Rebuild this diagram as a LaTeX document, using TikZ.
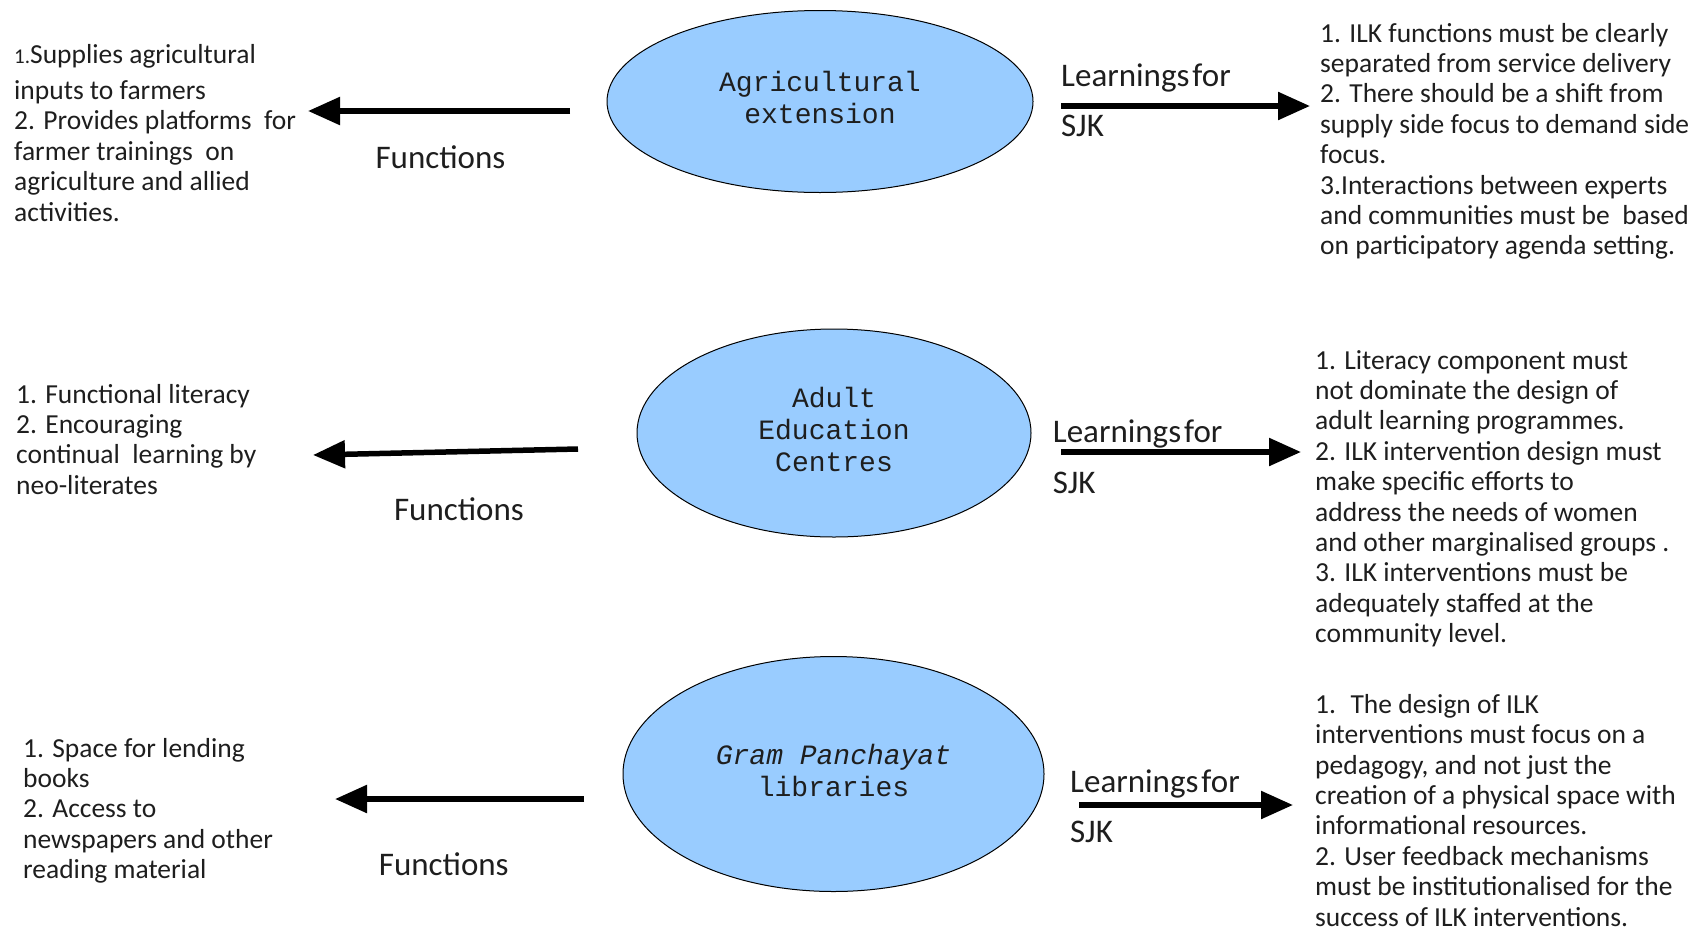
\documentclass[tikz,border=0pt]{standalone}
\usepackage{fontspec}
\setmainfont{Carlito}
\newfontfamily\monof{Liberation Mono}
\usetikzlibrary{shapes.geometric,arrows.meta}
\definecolor{instblue}{RGB}{153,204,255}
\definecolor{ink}{RGB}{30,30,30}
\begin{document}
\begin{tikzpicture}[x=1pt,y=-1pt,
  inst/.style={ellipse, draw=black, line width=1pt, fill=instblue, inner sep=0pt},
  insttext/.style={inner sep=0pt, align=center, font=\monof\fontsize{28}{32}\selectfont, text=ink},
  body/.style={anchor=base west, inner sep=0pt, align=left, font=\fontsize{27.5}{30.4}\selectfont, text=ink},
  lbl/.style={inner sep=0pt, font=\fontsize{33}{38}\selectfont, text=ink},
  arr/.style={line width=5.5pt, draw=black, -{Triangle[length=32pt,width=27pt]}},
]
\useasboundingbox (0,0) rectangle (1693,932);

% institutions
\node[inst, minimum width=426pt, minimum height=182pt] (e1) at (820,101.5) {};
\node[inst, minimum width=394pt, minimum height=208pt] (e2) at (834,433) {};
\node[inst, minimum width=421pt, minimum height=235pt] (e3) at (833.5,774) {};
\node[insttext] (t1) at ([yshift=4pt]e1.center) {Agricultural\\extension};
\node[insttext] (t2) at ([yshift=4pt]e2.center) {Adult\\Education\\Centres};
\node[insttext] (t3) at ([yshift=4pt]e3.center) {\itshape Gram Panchayat\\libraries};

% functions texts (left); anchor = baseline of last line
\node[body] (f1) at (14,221) {{\fontsize{21}{24}\selectfont 1.}Supplies agricultural\\[6pt]inputs to farmers\\2. Provides platforms~ for\\farmer trainings~ on\\agriculture and allied\\activities.};
\node[body] (f2) at (16,494.2) {1. Functional literacy\\2. Encouraging\\continual~ learning by\\neo-literates};
\node[body] (f3) at (23,878.6) {1. Space for lending\\books\\2. Access to\\newspapers and other\\reading material};

% learnings texts (right)
\node[body] (l1) at (1320,254.8) {1. ILK functions must be clearly\\separated from service delivery\\2. There should be a shift from\\supply side focus to demand side\\focus.\\3.Interactions between experts\\and communities must be~ based\\on participatory agenda setting.};
\node[body] (l2) at (1315,642.6) {1. Literacy component must\\not dominate the design of\\adult learning programmes.\\2. ILK intervention design must\\make specific efforts to\\address the needs of women\\and other marginalised groups .\\3. ILK interventions must be\\adequately staffed at the\\community level.};
\node[body] (l3) at (1315,926) {1.~ The design of ILK\\interventions must focus on a\\pedagogy, and not just the\\creation of a physical space with\\informational resources.\\2. User feedback mechanisms\\must be institutionalised for the\\success of ILK interventions.};

% arrow end points
\coordinate (a1s) at (570,111);  \coordinate (a1t) at (308,111);
\coordinate (b1s) at (1061,106); \coordinate (b1t) at (1310,106);
\coordinate (a2s) at (578,449);  \coordinate (a2t) at (313,455);
\coordinate (b2s) at (1061,452); \coordinate (b2t) at (1301,452);
\coordinate (a3s) at (584,799);  \coordinate (a3t) at (335,799);
\coordinate (b3s) at (1079,805); \coordinate (b3t) at (1293,805);

\draw[arr] (a1s) -- (a1t);
\draw[arr] (b1s) -- (b1t);
\draw[arr] (a2s) -- (a2t);
\draw[arr] (b2s) -- (b2t);
\draw[arr] (a3s) -- (a3t);
\draw[arr] (b3s) -- (b3t);

% labels
\node[lbl] (fn1) at (440.5,157.6) {Functions};
\node[lbl] (fn2) at (459,509.6) {Functions};
\node[lbl] (fn3) at (443.8,863.8) {Functions};
\node[lbl, anchor=west] (lf1) at (1061,77.7) {Learnings\kern3pt for};
\node[lbl, anchor=west] (sj1) at (1061,126.3) {SJK};
\node[lbl, anchor=west] (lf2) at (1052.7,434) {Learnings\kern3pt for};
\node[lbl, anchor=west] (sj2) at (1052.7,482.6) {SJK};
\node[lbl, anchor=west] (lf3) at (1070,783.9) {Learnings\kern3pt for};
\node[lbl, anchor=west] (sj3) at (1070,831.4) {SJK};
\end{tikzpicture}
\end{document}
